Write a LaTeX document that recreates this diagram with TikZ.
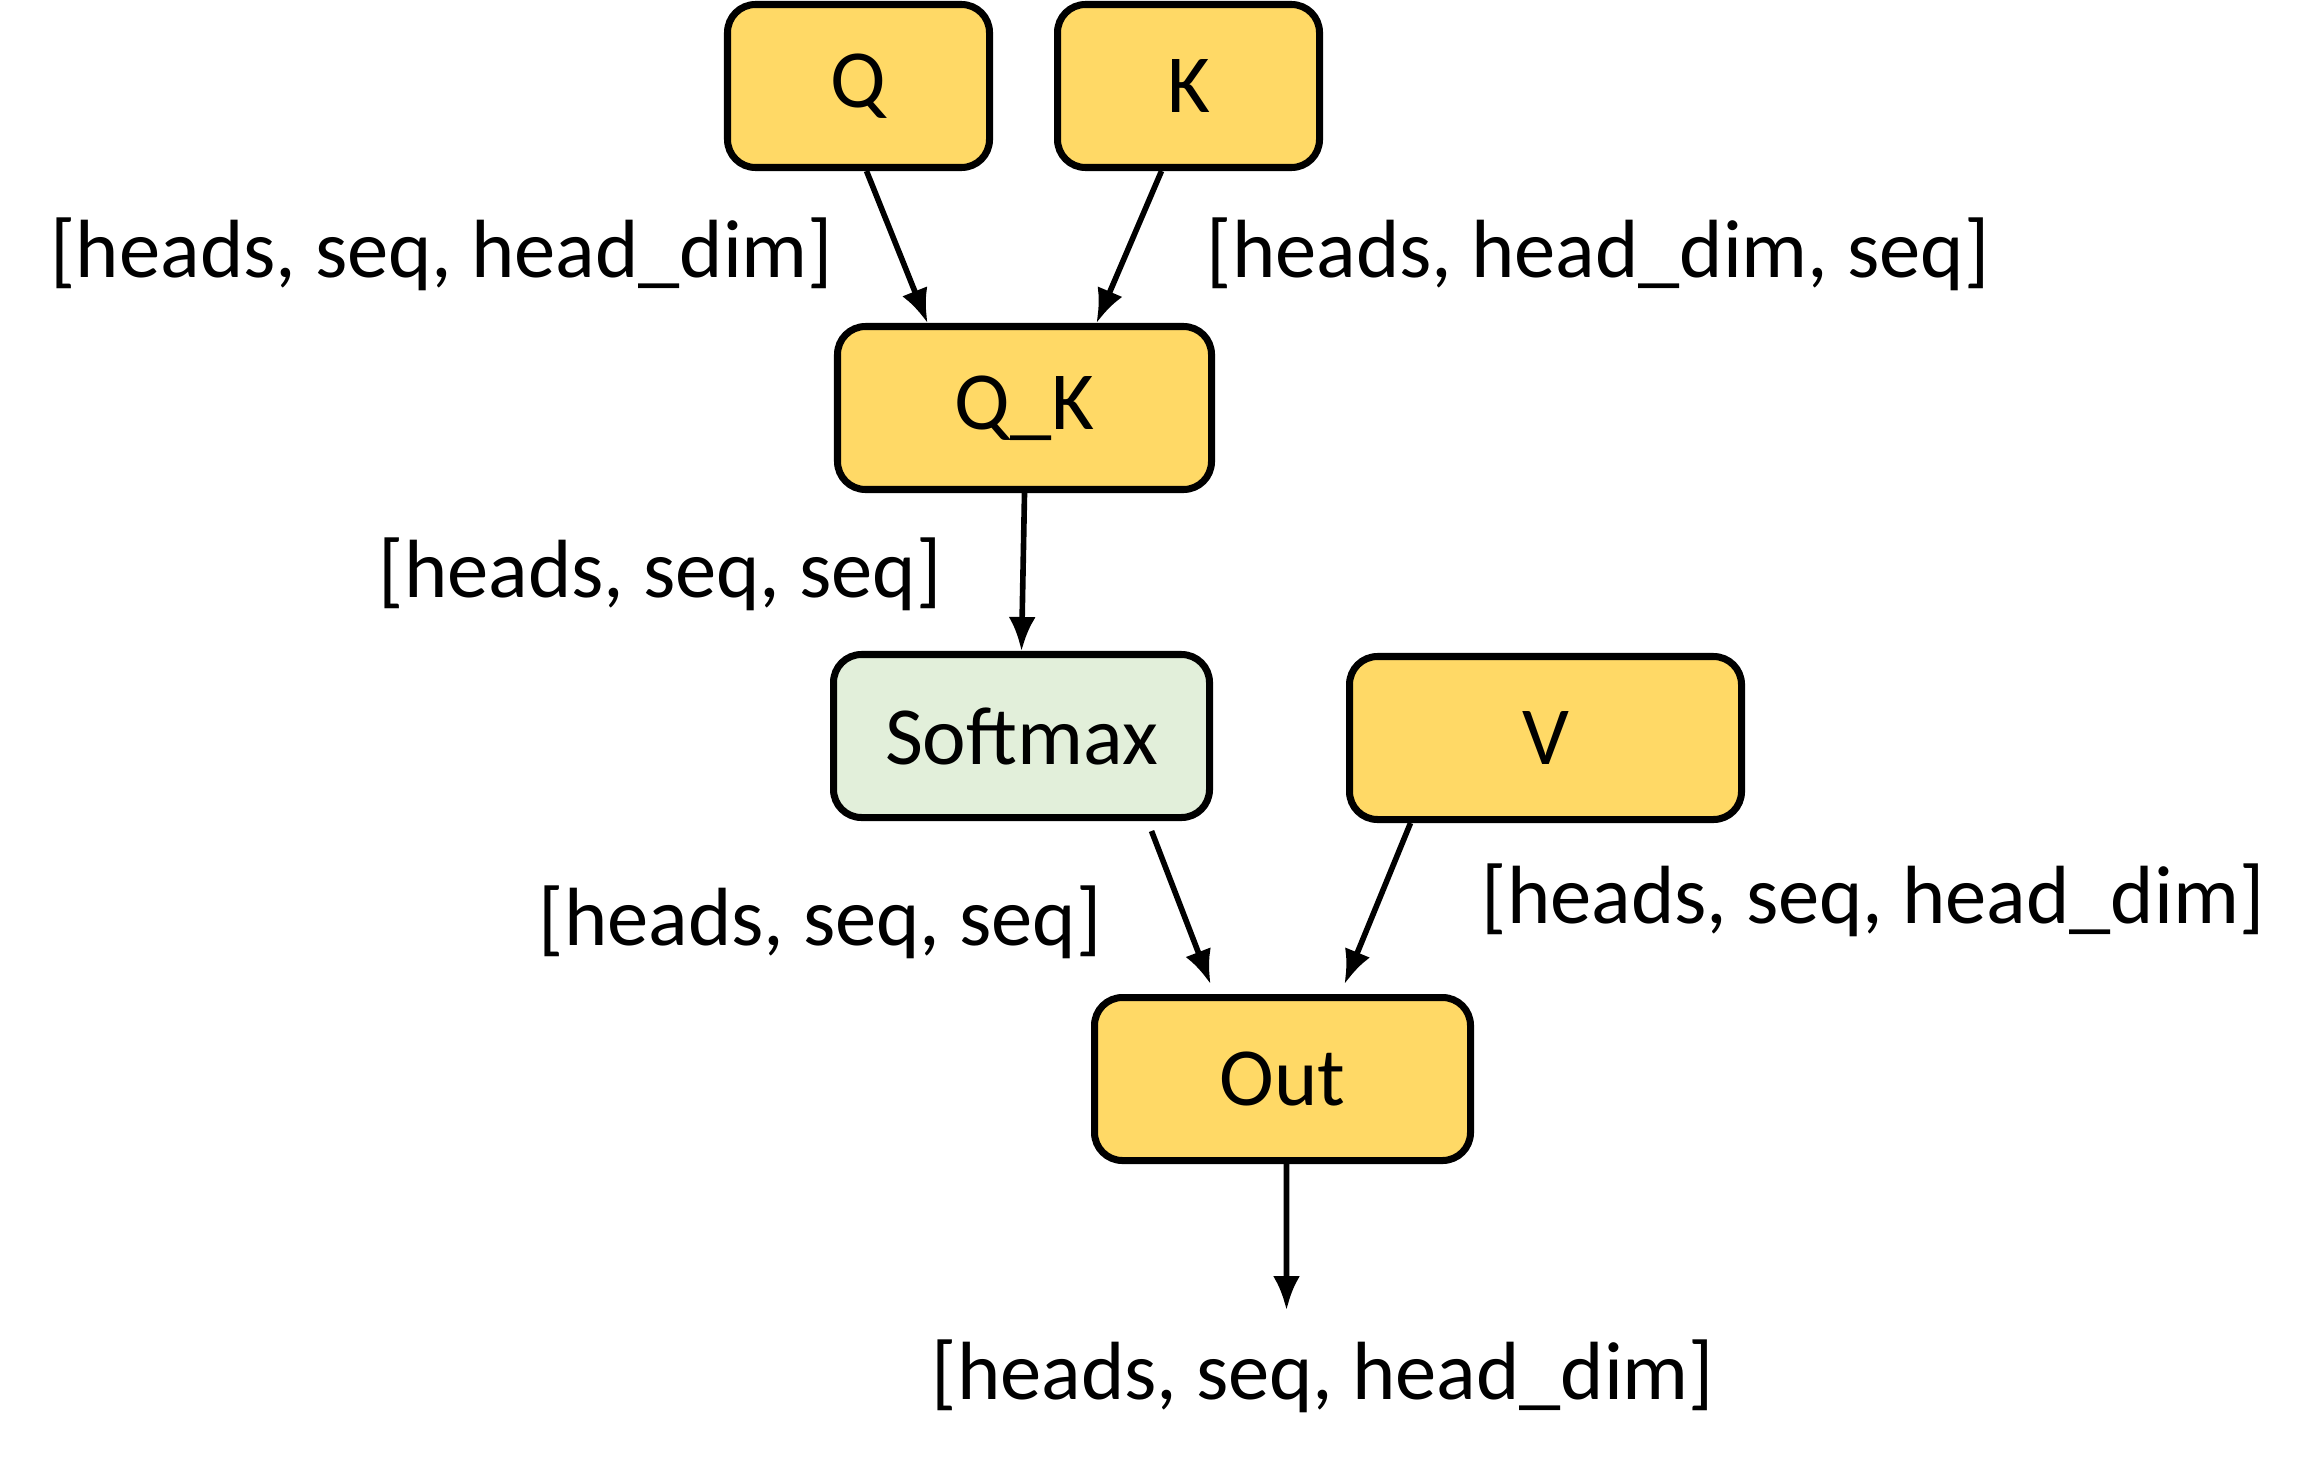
\documentclass[tikz,border=0pt]{standalone}
\usepackage{fontspec}
\setmainfont{Carlito}
\usepackage{tikz}
\usetikzlibrary{arrows.meta}

\definecolor{gold}{HTML}{FFD966}
\definecolor{mint}{HTML}{E2EFDA}

\tikzset{
    opbox/.style={draw, line width=2pt, rounded corners=0.28cm, fill=gold,
        minimum height=1.63cm, inner sep=0pt, font=\fontsize{23.5}{28}\selectfont},
    shapelbl/.style={inner sep=0pt, font=\fontsize{23.5}{28}\selectfont},
    flow/.style={-{Latex[length=0.34cm, width=0.27cm]}, line width=1.6pt}
}

\begin{document}
\begin{tikzpicture}
        \useasboundingbox (0,0) rectangle (23.16,-14.72);

        % Inputs
        \node[opbox, minimum width=2.62cm] (q) at (8.585,-0.86) {Q};
        \node[opbox, minimum width=2.62cm] (k) at (11.885,-0.86) {K};

        % Scores and softmax
        \node[opbox, minimum width=3.74cm] (qk) at (10.245,-4.08) {Q\_K};
        \node[opbox, minimum width=3.76cm, fill=mint] (soft) at (10.215,-7.36) {Softmax};
        \node[opbox, minimum width=3.92cm] (v) at (15.455,-7.38) {V};

        % Output
        \node[opbox, minimum width=3.76cm] (out) at (12.825,-10.79) {Out};
        \coordinate (outend) at (12.865,-13.10);

        % Shape labels
        \node[shapelbl, anchor=east] (lq) at (8.34,-2.54) {[heads, seq, head\_dim]};
        \node[shapelbl, anchor=west] (lk) at (12.06,-2.54) {[heads, head\_dim, seq]};
        \node[shapelbl, anchor=east] (lqk) at (9.42,-5.74) {[heads, seq, seq]};
        \node[shapelbl, anchor=east] (lsoft) at (11.02,-9.22) {[heads, seq, seq]};
        \node[shapelbl, anchor=west] (lv) at (14.81,-9.00) {[heads, seq, head\_dim]};
        \node[shapelbl] (lout) at (13.23,-13.76) {[heads, seq, head\_dim]};

        % Connections
        \draw[flow] ([xshift=0.08cm]q.south) -- ([xshift=-0.97cm]qk.north);
        \draw[flow] ([xshift=-0.27cm]k.south) -- ([xshift=0.72cm]qk.north);
        \draw[flow] (qk.south) -- (soft.north);
        \draw[flow] ([xshift=1.30cm,yshift=-0.10cm]soft.south) -- ([xshift=-0.72cm,yshift=0.10cm]out.north);
        \draw[flow] ([xshift=-1.35cm]v.south) -- ([xshift=0.62cm,yshift=0.10cm]out.north);
        \draw[flow] ([xshift=0.04cm]out.south) -- (outend);
    \end{tikzpicture}
\end{document}
